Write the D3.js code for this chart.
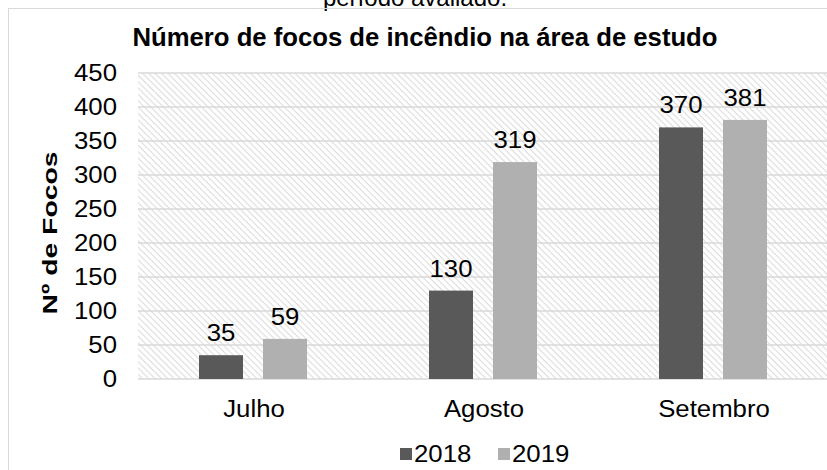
<!DOCTYPE html>
<html lang="pt">
  <head>
    <meta charset="utf-8" />
    <title>Número de focos de incêndio</title>
    <script src="https://d3js.org/d3.v7.min.js"></script>
    <style>
      body {
        margin: 0;
        background: #fff;
      }
      svg {
        display: block;
        font-family: 'Liberation Sans', Arial, sans-serif;
      }
      .tick-label, .cat-label, .value-label, .legend-label {
        font-size: 23px;
        fill: #000;
      }
    </style>
  </head>
  <body>
    <svg width="827" height="470"></svg>
    <script>

    var categories = ["Julho", "Agosto", "Setembro"];
    var series = ["2018", "2019"];
    var values2018 = [35, 130, 370];
    var values2019 = [59, 319, 381];
    var yTicks = [0, 50, 100, 150, 200, 250, 300, 350, 400, 450];

    var colours = {"2018": "#595959", "2019": "#b0b0b0"};

    var svg = d3.select("svg"),
        plot = {left: 138, right: 828, top: 73, bottom: 379};

    var rows = categories.map(function(c, i) {
      return {cat: c, values: [
        {key: "2018", value: values2018[i]},
        {key: "2019", value: values2019[i]}
      ]};
    });

    var x0 = d3.scaleBand().domain(categories).range([plot.left, plot.right]);
    var x1 = d3.scaleBand().domain(series).range([61, 169]).paddingInner(0.3125);
    var y = d3.scaleLinear().domain([0, 450]).range([plot.bottom, plot.top]);

    // the original font is a bit wider than Liberation Sans
    function widen(sel) {
      sel.each(function() {
        var w = this.getComputedTextLength();
        d3.select(this)
          .attr("textLength", w * 1.12)
          .attr("lengthAdjust", "spacingAndGlyphs");
      });
    }

    // hatch for plot background
    var defs = svg.append("defs");
    defs.append("pattern")
        .attr("id", "hatch")
        .attr("patternUnits", "userSpaceOnUse")
        .attr("width", 4.5)
        .attr("height", 4.5)
        .attr("patternTransform", "rotate(45)")
      .append("rect")
        .attr("width", 4.5)
        .attr("height", 1.1)
        .attr("fill", "#dcdcdc");

    // partially cut text above the chart
    svg.append("text")
        .attr("x", 415)
        .attr("y", 6)
        .attr("text-anchor", "middle")
        .style("font-size", "24px")
        .text("período avaliado.");

    // chart frame
    svg.append("rect")
        .attr("x", 8.5)
        .attr("y", 8.5)
        .attr("width", 840)
        .attr("height", 480)
        .attr("fill", "none")
        .attr("stroke", "#d9d9d9");

    svg.append("text")
        .attr("x", 425)
        .attr("y", 46)
        .attr("text-anchor", "middle")
        .attr("textLength", 585)
        .attr("lengthAdjust", "spacingAndGlyphs")
        .style("font-size", "25px")
        .style("font-weight", "bold")
        .text("Número de focos de incêndio na área de estudo");

    svg.append("rect")
        .attr("x", plot.left)
        .attr("y", plot.top)
        .attr("width", plot.right - plot.left)
        .attr("height", plot.bottom - plot.top)
        .attr("fill", "url(#hatch)");

    svg.append("g").selectAll("line")
        .data(yTicks)
        .enter().append("line")
        .attr("x1", plot.left)
        .attr("x2", plot.right)
        .attr("y1", function(d) { return y(d); })
        .attr("y2", function(d) { return y(d); })
        .attr("stroke", "#d9d9d9")
        .attr("stroke-width", 1.5);

    svg.append("g").selectAll("text")
        .data(yTicks)
        .enter().append("text")
        .attr("class", "tick-label")
        .attr("x", 117)
        .attr("y", function(d) { return y(d); })
        .attr("dy", "0.35em")
        .attr("text-anchor", "end")
        .text(function(d) { return d; })
        .call(widen);

    svg.append("text")
        .attr("transform", "translate(57,233) rotate(-90)")
        .attr("text-anchor", "middle")
        .attr("textLength", 163)
        .attr("lengthAdjust", "spacingAndGlyphs")
        .style("font-size", "21px")
        .style("font-weight", "bold")
        .text("Nº de Focos");

    var group = svg.append("g").selectAll(".group")
        .data(rows)
        .enter().append("g")
        .attr("class", "group")
        .attr("transform", function(d) { return "translate(" + x0(d.cat) + ",0)"; });

    group.selectAll("rect")
        .data(function(d) { return d.values; })
        .enter().append("rect")
        .attr("x", function(d) { return x1(d.key); })
        .attr("y", function(d) { return y(d.value); })
        .attr("width", x1.bandwidth())
        .attr("height", function(d) { return y(0) - y(d.value); })
        .attr("fill", function(d) { return colours[d.key]; });

    group.selectAll(".value-label")
        .data(function(d) { return d.values; })
        .enter().append("text")
        .attr("class", "value-label")
        .attr("x", function(d) { return x1(d.key) + x1.bandwidth() / 2; })
        .attr("y", function(d) { return y(d.value) - 14; })
        .attr("text-anchor", "middle")
        .text(function(d) { return d.value; })
        .call(widen);

    svg.append("g").selectAll("text")
        .data(categories)
        .enter().append("text")
        .attr("class", "cat-label")
        .attr("x", function(d) { return x0(d) + x0.bandwidth() / 2 + 1; })
        .attr("y", 417)
        .attr("text-anchor", "middle")
        .text(function(d) { return d; })
        .call(widen);

    var legend = svg.append("g").selectAll("g")
        .data(series)
        .enter().append("g")
        .attr("transform", function(d, i) { return "translate(" + (400 + i * 98) + ",448)"; });

    legend.append("rect")
        .attr("width", 12)
        .attr("height", 12)
        .attr("fill", function(d) { return colours[d]; });

    legend.append("text")
        .attr("class", "legend-label")
        .attr("x", 14)
        .attr("y", 14)
        .text(function(d) { return d; })
        .call(widen);

    </script>
  </body>
</html>
